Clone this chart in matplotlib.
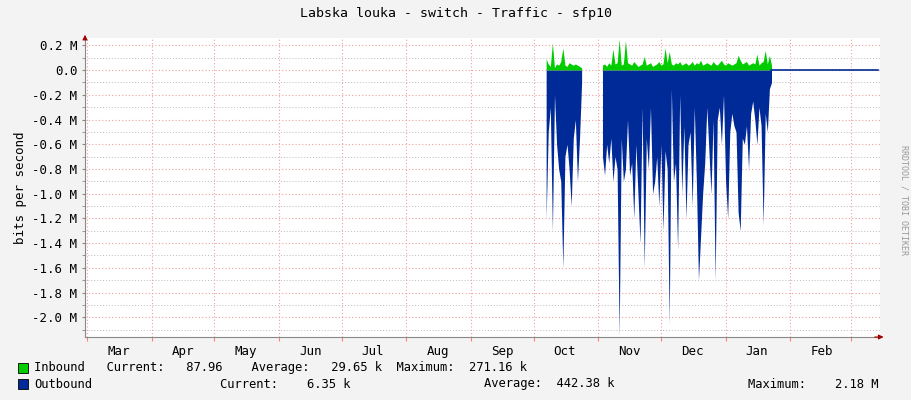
import matplotlib
matplotlib.use("Agg")
import matplotlib.pyplot as plt
import numpy as np
import datetime as dt

# data (M bits/s)
seg1_start = dt.date(2023, 10, 7)
seg1_out = [-1.2, -0.5, -0.3, -1.3, -0.2, -0.6, -0.8, -0.9, -1.6, -0.7, -0.6, -0.8, -1.1, -0.55, -0.4, -0.9, -0.55, -0.1]
seg1_in = [0.09, 0.05, 0.03, 0.22, 0.02, 0.05, 0.04, 0.07, 0.18, 0.04, 0.03, 0.06, 0.05, 0.04, 0.05, 0.04, 0.03, 0.02]
seg2_start = dt.date(2023, 11, 3)
seg2_out = [-0.7, -0.85, -0.6, -0.75, -0.55, -0.9, -0.7, -0.8, -2.15, -0.55, -0.9, -0.8, -0.4, -0.85,
            -0.75, -1.2, -0.6, -1.0, -1.4, -0.3, -1.6, -0.55, -0.8, -0.3, -1.0, -0.9, -0.7, -1.1,
            -0.6, -1.3, -0.65, -0.8, -2.05, -0.15, -0.9, -0.75, -1.45, -0.2, -1.0, -0.45, -1.2, -0.6,
            -0.5, -1.1, -0.3, -0.9, -1.7, -1.35, -1.0, -0.75, -0.3, -0.65, -1.0, -0.4, -1.7, -0.4,
            -0.3, -0.6, -0.2, -0.9, -1.2, -0.5, -0.35, -0.45, -0.5, -1.15, -1.3, -0.55, -0.6, -0.45,
            -0.8, -0.35, -0.25, -0.4, -0.6, -0.3, -0.45, -1.25, -0.35, -0.5, -0.15, -0.1]
seg2_in = [0.04, 0.05, 0.03, 0.06, 0.04, 0.17, 0.05, 0.06, 0.25, 0.04, 0.05, 0.24, 0.06, 0.05,
           0.04, 0.07, 0.05, 0.03, 0.04, 0.05, 0.11, 0.04, 0.05, 0.06, 0.03, 0.04, 0.05, 0.07,
           0.04, 0.05, 0.18, 0.06, 0.15, 0.05, 0.04, 0.06, 0.05, 0.07, 0.04, 0.05, 0.06, 0.04,
           0.05, 0.07, 0.04, 0.06, 0.05, 0.08, 0.04, 0.05, 0.06, 0.05, 0.04, 0.07, 0.05, 0.04,
           0.06, 0.08, 0.05, 0.04, 0.06, 0.05, 0.04, 0.05, 0.06, 0.12, 0.08, 0.05, 0.06, 0.07,
           0.04, 0.05, 0.06, 0.05, 0.13, 0.04, 0.06, 0.07, 0.16, 0.05, 0.12, 0.04]
flat_end = dt.date(2024, 3, 14)
months = ["Mar", "Apr", "May", "Jun", "Jul", "Aug", "Sep", "Oct", "Nov", "Dec", "Jan", "Feb"]

def dates(start, n):
    return [start + dt.timedelta(days=i) for i in range(n)]

fig = plt.figure(figsize=(9.11, 4.0), dpi=100, facecolor="#F3F3F3")
ax = fig.add_axes([85/911, 63/400, 795/911, 299/400], facecolor="white")

for st, o, i in [(seg1_start, seg1_out, seg1_in), (seg2_start, seg2_out, seg2_in)]:
    d = dates(st, len(o))
    ax.fill_between(d, 0, i, color="#00CC00", lw=0)
    ax.fill_between(d, 0, o, color="#002A97", lw=0)
end2 = seg2_start + dt.timedelta(days=len(seg2_out) - 1)
ax.plot([end2, flat_end], [0, 0], color="#002A97", lw=1.2)

ax.set_xlim(dt.date(2023, 2, 28), dt.date(2024, 3, 15))
ax.set_ylim(-2.16, 0.26)

yt = np.round(np.arange(-2.0, 0.21, 0.2), 1)
ax.set_yticks(yt)
ax.set_yticklabels(["0.0" if abs(v) < 1e-9 else f"{v:.1f} M" for v in yt], fontsize=9, family="DejaVu Sans Mono")
ax.set_yticks(np.arange(-2.1, 0.26, 0.1), minor=True)

mstarts = [dt.date(2023, m, 1) for m in range(3, 13)] + [dt.date(2024, 1, 1), dt.date(2024, 2, 1), dt.date(2024, 3, 1)]
mids = [dt.date(2023, m, 16) for m in range(3, 13)] + [dt.date(2024, 1, 16), dt.date(2024, 2, 16)]
ax.set_xticks(mstarts)
ax.set_xticklabels([""] * len(mstarts))
ax.set_xticks(mids, minor=True)
ax.set_xticklabels(months, minor=True, fontsize=9, family="DejaVu Sans Mono")
ax.tick_params(axis="x", which="minor", length=0, pad=6)
ax.tick_params(axis="x", which="major", length=3, color="#FF8080")
ax.tick_params(axis="y", which="both", length=2, color="#888888")

ax.grid(True, axis="y", which="minor", color="#BBBBBB", ls=(0, (1, 2)), lw=0.7)
ax.grid(True, axis="y", which="major", color="#F0A0A0", ls=(0, (1, 2)), lw=0.8)
ax.grid(True, axis="x", which="major", color="#F0A0A0", ls=(0, (1, 2)), lw=0.8)
ax.set_axisbelow(True)
for s in ["top", "right"]:
    ax.spines[s].set_visible(False)
ax.spines["left"].set_color("#888888")
ax.spines["bottom"].set_color("#888888")
ax.annotate("", xy=(1.008, 0), xytext=(0.99, 0), xycoords="axes fraction",
            arrowprops=dict(arrowstyle="-|>", color="#A00000", lw=0.8, mutation_scale=7))
ax.annotate("", xy=(0, 1.02), xytext=(0, 0.99), xycoords="axes fraction",
            arrowprops=dict(arrowstyle="-|>", color="#A00000", lw=0.8, mutation_scale=7))

ax.set_ylabel("bits per second", fontsize=9, family="DejaVu Sans Mono")
fig.text(0.5, 0.965, "Labska louka - switch - Traffic - sfp10", ha="center", va="center",
         fontsize=9.5, family="DejaVu Sans Mono")
fig.text(0.992, 0.5, "RRDTOOL / TOBI OETIKER", rotation=270, ha="center", va="center",
         fontsize=6, color="#999999", family="DejaVu Sans Mono")

mono = dict(fontsize=8.7, family="DejaVu Sans Mono", va="center")
for y, col in [(368, "#00CC00"), (384, "#002A97")]:
    fig.patches.append(plt.Rectangle((18/911, 1 - (y + 5)/400), 10/911, 10/400, transform=fig.transFigure,
                                     facecolor=col, edgecolor="black", lw=0.6))
fig.text(34/911, 1 - 368/400, "Inbound   Current:   87.96    Average:   29.65 k  Maximum:  271.16 k", **mono)
fig.text(34/911, 1 - 384/400, "Outbound", **mono)
fig.text(220/911, 1 - 384/400, "Current:    6.35 k", **mono)
fig.text(484/911, 1 - 384/400, "Average:  442.38 k", **mono)
fig.text(748/911, 1 - 384/400, "Maximum:    2.18 M", **mono)

fig.savefig("out.png", dpi=100, facecolor=fig.get_facecolor())
